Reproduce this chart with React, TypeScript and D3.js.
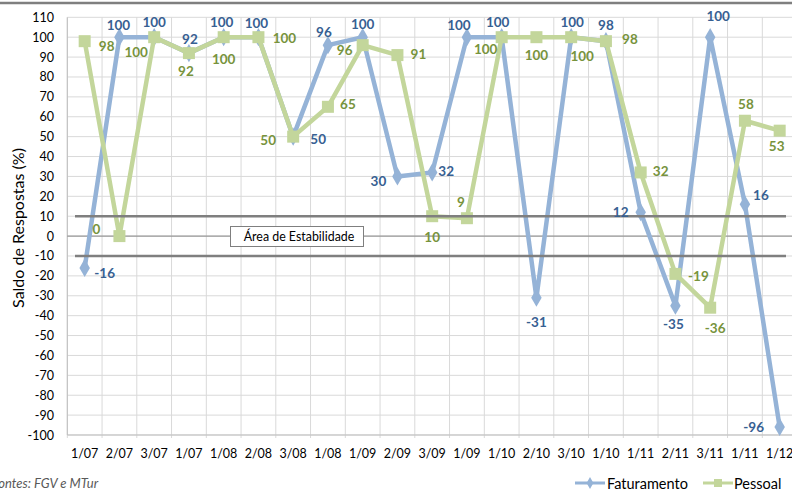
import React from "react";
import * as d3 from "d3";

const categories = ["1/07","2/07","3/07","1/07","1/08","2/08","3/08","1/08","1/09","2/09","3/09","1/09","1/10","2/10","3/10","1/10","1/11","2/11","3/11","1/11","1/12"];
const faturamento = [-16,100,100,92,100,100,50,96,100,30,32,100,100,-31,100,98,12,-35,100,16,-96];
const pessoal = [98,0,100,92,100,100,50,65,96,91,10,9,100,100,100,98,32,-19,-36,58,53];
const yTicks = d3.range(-100, 111, 10);
const stabilityBand = [10, -10];

// label placement (style): [dx, dy] from point
const fatLabelOffsets = [[20,5],[-1,-12],[0,-15],[1,-14],[-2,-15],[-2,-14],[25,2],[-4,-13],[0,-13],[-19,5],[14,-1],[-8,-12],[-4,-15],[0,24],[1,-15],[0,-16],[-20,0],[-2,18],[8,-21],[16,-9],[-26,0]];
const pesLabelOffsets = [[22,5],[-23,-7],[-18,15],[-3,18],[0,22],[26,1],[-25,3],[20,-3],[-18,5],[21,-1],[0,21],[-6,-16],[-16,12],[0,18],[11,19],[24,-2],[20,-1],[23,2],[5,20],[1,-17],[-3,15]];

const W = 792, H = 490;
const left = 67.3, bandW = 34.75;
const FONT = "Lato, 'Open Sans', sans-serif";
const FAT_LINE = "#95b3d7", FAT_TXT = "#376092";
const PES_LINE = "#c3d69b", PES_TXT = "#77933c";

export default function App() {
  const x = d3.scaleBand<number>().domain(d3.range(categories.length)).range([left, left + bandW * categories.length]);
  const y = d3.scaleLinear().domain([-100, 110]).range([435, 17.3]);
  const cx = (i: number) => (x(i) as number) + x.bandwidth() / 2;
  const line = d3.line<number>().x((_, i) => cx(i)).y(d => y(d));
  const right = left + bandW * categories.length;
  const gridX = d3.range(categories.length + 1).map(i => left + i * bandW);

  return (
    <svg width={W} height={H} style={{ position: "absolute", left: 0, top: 0, background: "#fff" }} fontFamily={FONT}>
      <rect x={0} y={0} width={W} height={H} fill="#fff" />
      <line x1={0} x2={W} y1={3} y2={3} stroke="#7f7f7f" strokeWidth={2.5} />
      {/* grid */}
      {yTicks.map(t => (
        <line key={"h" + t} x1={left} x2={right} y1={y(t)} y2={y(t)} stroke="#d9d9d9" strokeWidth={1} />
      ))}
      {gridX.map((gx, i) => (
        <line key={"v" + i} x1={gx} x2={gx} y1={y(110)} y2={y(-100) + 3} stroke="#d9d9d9" strokeWidth={1} />
      ))}
      <line x1={left} x2={right} y1={y(-100)} y2={y(-100)} stroke="#bfbfbf" />
      <line x1={left} x2={left} y1={y(110)} y2={y(-100)} stroke="#bfbfbf" />
      <line x1={left} x2={right} y1={y(0)} y2={y(0)} stroke="#868686" strokeWidth={1} />
      {/* y tick labels */}
      {yTicks.map(t => (
        <text key={"yt" + t} x={54} y={y(t)} textAnchor="end" dominantBaseline="central" fontSize={12.5} fill="#000">{t}</text>
      ))}
      {/* x labels */}
      {categories.map((c, i) => (
        <text key={"xl" + i} x={cx(i)} y={453} textAnchor="middle" dominantBaseline="central" fontSize={12.5} fill="#000">{c}</text>
      ))}
      <text transform={`translate(17,${228}) rotate(-90)`} textAnchor="middle" dominantBaseline="central" fontSize={16} fill="#000">Saldo de Respostas (%)</text>
      {/* series */}
      <path d={line(faturamento) || ""} fill="none" stroke={FAT_LINE} strokeWidth={4.5} strokeLinejoin="round" />
      {faturamento.map((v, i) => (
        <path key={"fm" + i} d={d3.symbol(d3.symbolDiamond, 95)() || ""} transform={`translate(${cx(i)},${y(v)})`} fill={FAT_LINE} />
      ))}
      <path d={line(pessoal) || ""} fill="none" stroke={PES_LINE} strokeWidth={4.5} strokeLinejoin="round" />
      {pessoal.map((v, i) => (
        <rect key={"pm" + i} x={cx(i) - 6} y={y(v) - 6} width={12} height={12} fill={PES_LINE} />
      ))}
      {/* stability area */}
      {stabilityBand.map(b => (
        <line key={"s" + b} x1={75} x2={786} y1={y(b)} y2={y(b)} stroke="#7f7f7f" strokeWidth={2.5} />
      ))}
      <rect x={230.5} y={226.5} width={133} height={20} fill="#fff" stroke="#7f7f7f" strokeWidth={1} />
      <text x={299} y={236.5} textAnchor="middle" dominantBaseline="central" fontSize={12.4} fill="#000">Área de Estabilidade</text>
      {/* data labels */}
      {faturamento.map((v, i) => (
        <text key={"fl" + i} x={cx(i) + fatLabelOffsets[i][0]} y={y(v) + fatLabelOffsets[i][1]} textAnchor="middle" dominantBaseline="central" fontSize={13.5} fontWeight="bold" fill={FAT_TXT}>{v}</text>
      ))}
      {pessoal.map((v, i) => (
        <text key={"pl" + i} x={cx(i) + pesLabelOffsets[i][0]} y={y(v) + pesLabelOffsets[i][1]} textAnchor="middle" dominantBaseline="central" fontSize={13.5} fontWeight="bold" fill={PES_TXT}>{v}</text>
      ))}
      {/* footer */}
      <text x={-8} y={483} dominantBaseline="central" fontSize={13} fontStyle="italic" fill="#595959">Fontes: FGV e MTur</text>
      {/* legend */}
      <line x1={575} x2={605} y1={483} y2={483} stroke={FAT_LINE} strokeWidth={3} />
      <path d={d3.symbol(d3.symbolDiamond, 40)() || ""} transform="translate(590,483)" fill={FAT_LINE} />
      <text x={607} y={483} dominantBaseline="central" fontSize={14.5} fill="#000">Faturamento</text>
      <line x1={703} x2={733} y1={483} y2={483} stroke={PES_LINE} strokeWidth={3} />
      <rect x={714} y={479} width={8} height={8} fill={PES_LINE} />
      <text x={734} y={483} dominantBaseline="central" fontSize={14.5} fill="#000">Pessoal</text>
    </svg>
  );
}
